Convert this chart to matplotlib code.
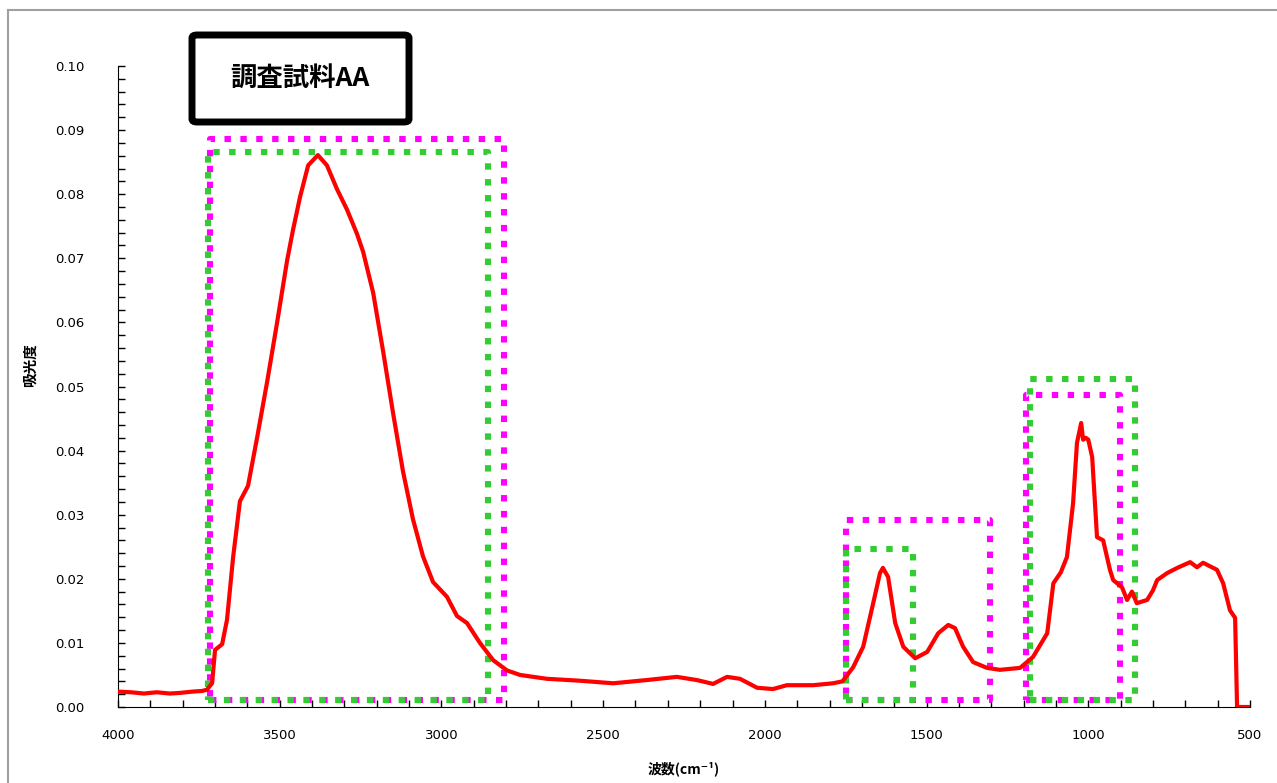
import numpy as np
import matplotlib.pyplot as plt
from matplotlib.patches import FancyBboxPatch
from matplotlib.lines import Line2D
from matplotlib.ticker import MultipleLocator, FormatStrFormatter

plt.rcParams['font.family'] = ['DejaVu Sans', 'Noto Sans CJK JP']

# IR spectrum of sample AA (wavenumber cm-1, absorbance)
wavenumber = [4000, 3960, 3920, 3880, 3840, 3808, 3770, 3740, 3725, 3709, 3700,
              3678, 3663, 3644, 3623, 3598, 3570, 3539, 3508, 3477, 3459, 3437,
              3412, 3382, 3354, 3323, 3292, 3261, 3242, 3211, 3180, 3150, 3119,
              3088, 3057, 3026, 2983, 2952, 2921, 2881, 2840, 2797, 2757, 2674,
              2572, 2469, 2366, 2272, 2210, 2160, 2117, 2077, 2024, 1975, 1932,
              1851, 1789, 1760, 1727, 1696, 1665, 1644, 1635, 1619, 1597, 1572,
              1535, 1498, 1464, 1433, 1412, 1387, 1356, 1313, 1273, 1211, 1171,
              1127, 1108, 1085, 1066, 1047, 1035, 1022, 1016, 1008, 1000, 988,
              973, 954, 933, 923, 896, 880, 865, 850, 818, 800, 787, 756, 725,
              685, 664, 645, 602, 583, 562, 546, 540, 500]
absorbance = [0.0024, 0.0023, 0.0021, 0.0023, 0.0021, 0.0022, 0.0024, 0.0025,
              0.0027, 0.0037, 0.0089, 0.0098, 0.0136, 0.0234, 0.0321, 0.0345,
              0.0420, 0.0507, 0.0600, 0.0697, 0.0744, 0.0796, 0.0845, 0.0861,
              0.0845, 0.0808, 0.0776, 0.0738, 0.0710, 0.0646, 0.0554, 0.0460,
              0.0368, 0.0293, 0.0235, 0.0195, 0.0172, 0.0142, 0.0131, 0.0100,
              0.0073, 0.0057, 0.0050, 0.0044, 0.0041, 0.0037, 0.0042, 0.0047,
              0.0042, 0.0036, 0.0047, 0.0044, 0.0030, 0.0028, 0.0034, 0.0034,
              0.0037, 0.0040, 0.0062, 0.0094, 0.0162, 0.0209, 0.0217, 0.0203,
              0.0131, 0.0094, 0.0076, 0.0086, 0.0115, 0.0128, 0.0123, 0.0094,
              0.0070, 0.0061, 0.0058, 0.0061, 0.0078, 0.0115, 0.0193, 0.0210,
              0.0234, 0.0318, 0.0412, 0.0443, 0.0417, 0.0420, 0.0417, 0.0390,
              0.0265, 0.0260, 0.0214, 0.0198, 0.0187, 0.0167, 0.0180, 0.0162,
              0.0167, 0.0182, 0.0198, 0.0209, 0.0217, 0.0226, 0.0218, 0.0225,
              0.0214, 0.0193, 0.0151, 0.0139, 0.0, 0.0]

# highlighted regions: (wn_high, wn_low, abs_low, abs_high)
green_boxes = [(3722, 2856, 0.0011, 0.0866),
               (1749, 1542, 0.0011, 0.0246),
               (1180, 855, 0.0011, 0.0512)]
pink_boxes = [(3715, 2806, 0.0011, 0.0886),
              (1749, 1304, 0.0011, 0.0292),
              (1192, 902, 0.0011, 0.0487)]

fig = plt.figure(figsize=(12.77, 7.83), dpi=100)
ax = fig.add_axes([118 / 1277, 76 / 783, 1132 / 1277, 641 / 783])

# dotted boxes go first so the spectrum sits on top
def draw_box(box, color):
    x1, x2, y1, y2 = box
    ax.plot([x1, x2, x2, x1, x1], [y1, y1, y2, y2, y1], color=color, lw=4.4,
            linestyle=(0, (1.05, 1.55)), dash_capstyle='butt', zorder=2)

for b in pink_boxes:
    draw_box(b, '#FF00FF')
for b in green_boxes:
    draw_box(b, '#33CC33')

ax.plot(wavenumber, absorbance, color='#FF0000', lw=3.0, zorder=3,
        solid_joinstyle='round')

ax.set_xlim(4000, 500)
ax.set_ylim(0, 0.10)
ax.spines['top'].set_visible(False)
ax.spines['right'].set_visible(False)
ax.xaxis.set_major_locator(MultipleLocator(500))
ax.xaxis.set_minor_locator(MultipleLocator(100))
ax.yaxis.set_major_locator(MultipleLocator(0.01))
ax.yaxis.set_minor_locator(MultipleLocator(0.002))
ax.yaxis.set_major_formatter(FormatStrFormatter('%.2f'))
ax.tick_params(which='both', direction='in', length=5, width=1, labelsize=9.5)
ax.tick_params(axis='x', pad=16)
ax.tick_params(axis='y', pad=24)

ax.set_xlabel('波数(cm⁻¹)', fontsize=10, fontweight='bold',
              family=['Noto Sans CJK JP', 'DejaVu Sans'], labelpad=14)
fig.text(30 / 1277, 1 - 365 / 783, '吸光度', rotation=90, ha='center',
         va='center', fontsize=10.5, fontweight='bold',
         family=['Noto Sans CJK JP', 'DejaVu Sans'])

# sample name box
box = FancyBboxPatch((192 / 1277, 1 - 122 / 783), 217 / 1277, 87 / 783,
                     boxstyle='round,pad=0,rounding_size=0.004',
                     transform=fig.transFigure, facecolor='white',
                     edgecolor='black', lw=5, zorder=5)
fig.patches.append(box)
fig.text(300 / 1277, 1 - 78 / 783, '調査試料AA', ha='center', va='center',
         fontsize=19, fontweight='bold',
         family=['Noto Sans CJK JP', 'DejaVu Sans'], zorder=6)

# gray chart-area frame
fig.add_artist(Line2D([8 / 1277, 8 / 1277], [0, 1 - 10 / 783],
                      transform=fig.transFigure, color='#A0A0A0', lw=1.5))
fig.add_artist(Line2D([8 / 1277, 1], [1 - 10 / 783, 1 - 10 / 783],
                      transform=fig.transFigure, color='#A0A0A0', lw=1.5))

fig.savefig('out.png', dpi=100)
